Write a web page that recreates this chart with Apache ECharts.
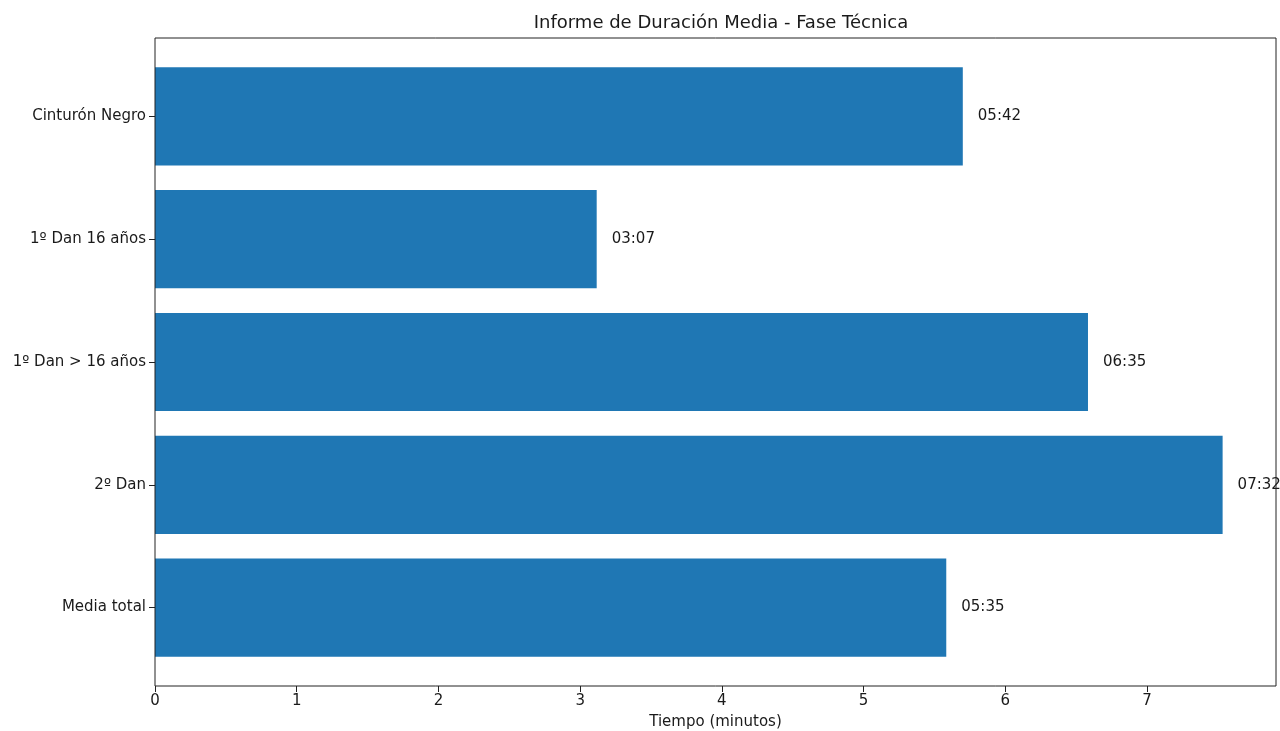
<!DOCTYPE html>
<html><head><meta charset="utf-8">
<script src="https://cdn.jsdelivr.net/npm/echarts@6/dist/echarts.min.js"></script>
<style>html,body{margin:0;padding:0;background:#fff}#c{width:1280px;height:731px}</style>
</head><body><div id="c"></div>
<script>
// Categories bottom-to-top
const categories = ['Media total', '2º Dan', '1º Dan > 16 años', '1º Dan 16 años', 'Cinturón Negro'];
const durations = [5 + 35/60, 7 + 32/60, 6 + 35/60, 3 + 7/60, 5 + 42/60];
const xTicks = [0, 1, 2, 3, 4, 5, 6, 7];

function fmt(v) {
  const s = Math.round(v * 60);
  const m = Math.floor(s / 60), r = s % 60;
  return String(m).padStart(2, '0') + ':' + String(r).padStart(2, '0');
}
const xMax = Math.max(...durations) * 1.05;
const font = 'DejaVu Sans';

const chart = echarts.init(document.getElementById('c'));
chart.setOption({
  animation: false,
  backgroundColor: '#fff',
  textStyle: { fontFamily: font },
  title: {
    text: 'Informe de Duración Media - Fase Técnica',
    left: 716, top: 9, textAlign: 'center',
    textStyle: { fontFamily: font, fontSize: 18, fontWeight: 'normal', color: '#1a1a1a' }
  },
  grid: [
    { left: 155, right: 4, top: 38, bottom: 45, show: true, borderColor: '#222', borderWidth: 1, backgroundColor: 'transparent', z: 5, outerBoundsMode: 'none', containLabel: false },
    { left: 155, right: 4, top: 55, bottom: 62, outerBoundsMode: 'none', containLabel: false }
  ],
  xAxis: [
    {
      gridIndex: 0, type: 'value', min: 0, max: xMax, interval: 1,
      name: 'Tiempo (minutos)', nameLocation: 'middle', nameGap: 29,
      nameTextStyle: { fontFamily: font, fontSize: 15, color: '#1a1a1a' },
      axisLine: { show: false },
      axisTick: { show: true, length: 6, lineStyle: { color: '#222' } },
      axisLabel: { fontFamily: font, fontSize: 15, color: '#1a1a1a', margin: 8,
        formatter: v => xTicks.includes(v) ? String(v) : '', showMaxLabel: false },
      splitLine: { show: false }
    },
    { gridIndex: 1, type: 'value', min: 0, max: xMax, show: false }
  ],
  yAxis: [
    { gridIndex: 0, type: 'value', min: 0, max: 1, show: false },
    {
      gridIndex: 1, type: 'category', data: categories,
      axisLine: { show: false },
      axisTick: { show: true, alignWithLabel: true, length: 6, lineStyle: { color: '#222' } },
      axisLabel: { fontFamily: font, fontSize: 15, color: '#1a1a1a', margin: 9 },
      splitLine: { show: false }
    }
  ],
  series: [{
    type: 'bar', xAxisIndex: 1, yAxisIndex: 1,
    data: durations,
    barCategoryGap: '20%',
    itemStyle: { color: '#1f77b4' },
    label: {
      show: true, position: 'right', distance: 15,
      fontFamily: font, fontSize: 15, color: '#1a1a1a',
      formatter: p => fmt(p.value)
    }
  }]
});
</script></body></html>
